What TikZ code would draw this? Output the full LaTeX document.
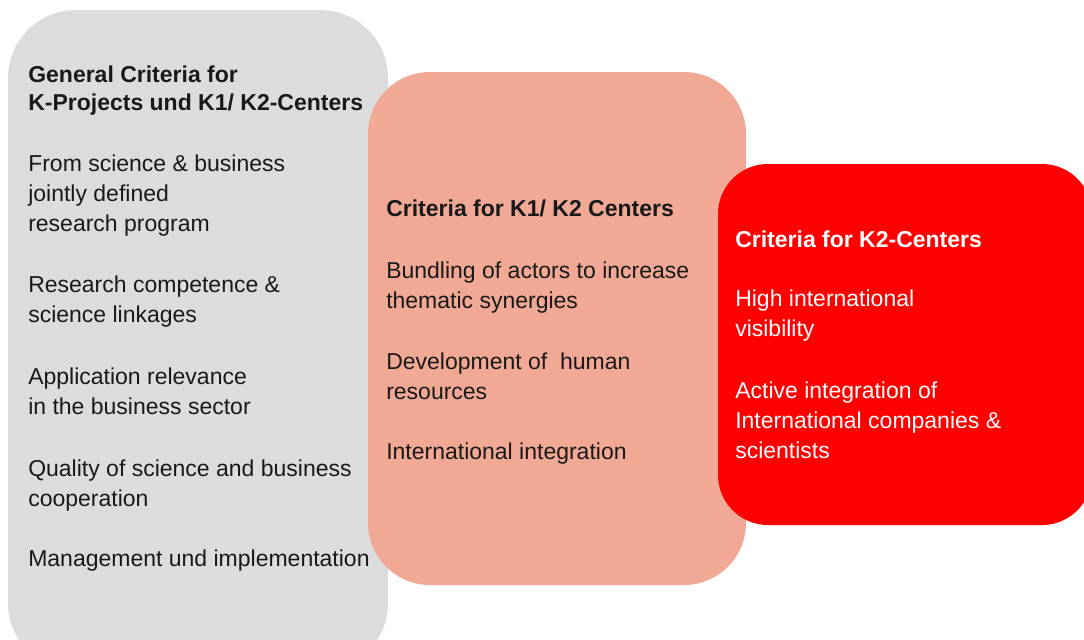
\documentclass[tikz,border=0pt]{standalone}
\usepackage{fontspec}
\setmainfont{Liberation Sans}
\definecolor{boxgray}{RGB}{220,220,220}
\definecolor{boxsalmon}{RGB}{241,169,150}
\definecolor{boxred}{RGB}{255,0,0}
\begin{document}
\begin{tikzpicture}[x=0.75pt,y=0.75pt,yscale=-1,xscale=1,
	crit/.style={anchor=base west,align=left,inner sep=0pt,text=black!90,font=\fontsize{17.25}{22.5}\selectfont},
	crithead/.style={crit,font=\fontsize{17.25}{21}\selectfont\bfseries}]
	\useasboundingbox (0,0) rectangle (1084,639);
	
	%Shape: Rounded Rect (general)
	\fill [boxgray] [rounded corners=51pt] (8,10) rectangle (388,671) ;
	%Shape: Rounded Rect (K1/K2)
	\fill [boxsalmon] [rounded corners=46.5pt] (368,72) rectangle (746,585) ;
	%Shape: Rounded Rect (K2)
	\fill [boxred] [rounded corners=37.5pt] (718,164) rectangle (1092,525) ;
	
	% General criteria (base = last line)
	\node [crithead] (genHead) at (28,110) {General Criteria for\\K-Projects und K1/ K2-Centers};
	\node [crit] (genA) at (28,231.7) {From science \& business\\jointly defined\\research program};
	\node [crit] (genB) at (28,322.5) {Research competence \&\\science linkages};
	\node [crit] (genC) at (28,414) {Application relevance\\in the business sector};
	\node [crit] (genD) at (28,506.7) {Quality of science and business\\cooperation};
	\node [crit] (genE) at (28,566.7) {Management und implementation};
	
	% K1/ K2 centers
	\node [crithead] (cenHead) at (386,216) {Criteria for K1/ K2 Centers};
	\node [crit] (cenA) at (386,308.3) {Bundling of actors to increase\\thematic synergies};
	\node [crit] (cenB) at (386,399.5) {Development of\ \ human\\resources};
	\node [crit] (cenC) at (386,459) {International integration};
	
	% K2 centers
	\node [crithead,text=white] (ktwoHead) at (735,247.3) {Criteria for K2-Centers};
	\node [crit,text=white] (ktwoA) at (735,336.7) {High international\\visibility};
	\node [crit,text=white] (ktwoB) at (735,458.3) {Active integration of\\International companies \&\\scientists};
\end{tikzpicture}
\end{document}
